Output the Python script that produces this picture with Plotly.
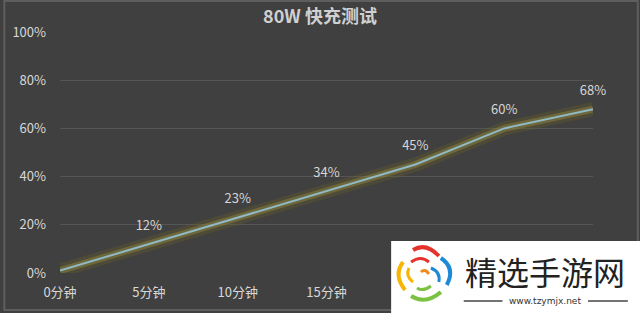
import plotly.graph_objects as go

# ---- data ----
categories = ["0分钟", "5分钟", "10分钟", "15分钟", "20分钟", "25分钟", "30分钟"]
values = [1, 12, 23, 34, 45, 60, 68]
point_labels = ["", "12%", "23%", "34%", "45%", "60%", "68%"]
y_ticks = [0, 20, 40, 60, 80, 100]
y_tick_labels = ["0%", "20%", "40%", "60%", "80%", "100%"]
visible_x_ticks = 4  # the rest are hidden behind the watermark in the source image
title_text = "80W 快充测试"

W, H = 640, 313
L, R, T, B = 57, 47, 32, 40
PW, PH = W - L - R, H - T - B

def px(x):
    return (x - L) / PW

def py(y):
    return (H - B - y) / PH

BG = "#404040"
FONT = "Noto Sans CJK SC"
xi = list(range(len(categories)))

fig = go.Figure()
# glow layers
fig.add_trace(go.Scatter(x=xi, y=values, mode="lines",
                         line=dict(color="rgba(110,100,40,0.30)", width=14),
                         hoverinfo="skip", showlegend=False))
fig.add_trace(go.Scatter(x=xi, y=values, mode="lines",
                         line=dict(color="rgba(150,140,65,0.45)", width=7),
                         hoverinfo="skip", showlegend=False))
fig.add_trace(go.Scatter(x=xi, y=values, mode="lines+markers+text",
                         line=dict(color="#8fbac6", width=2),
                         marker=dict(size=16, opacity=0),
                         text=point_labels, textposition="top center",
                         textfont=dict(family=FONT, size=13, color="#d6d6d6"),
                         cliponaxis=False, showlegend=False))

fig.update_layout(
    width=W, height=H,
    margin=dict(l=L, r=R, t=T, b=B, pad=0),
    paper_bgcolor=BG, plot_bgcolor=BG,
    title=dict(text="<b>" + title_text + "</b>", x=0.5, xanchor="center",
               y=1 - 17 / H, yanchor="middle",
               font=dict(family=FONT, size=18, color="#d0d0d0")),
    xaxis=dict(tickmode="array", tickvals=xi[:visible_x_ticks],
               ticktext=categories[:visible_x_ticks], range=[0, 6],
               showgrid=False, zeroline=False, showline=False, ticks="",
               tickfont=dict(family=FONT, size=13, color="#d8d8d8"), ticklabelstandoff=10),
    yaxis=dict(tickmode="array", tickvals=y_ticks, ticktext=y_tick_labels, range=[0, 100],
               showgrid=True, gridcolor="#555555", gridwidth=1, zeroline=False,
               showline=False, ticks="",
               tickfont=dict(family=FONT, size=13, color="#d8d8d8"), ticklabelstandoff=13),
    font=dict(family=FONT),
)

shapes = []
# border
shapes.append(dict(type="rect", xref="paper", yref="paper",
                   x0=px(1), x1=px(638), y0=py(1), y1=py(310),
                   line=dict(color="#5e5e5e", width=2), layer="below"))
# watermark white box
shapes.append(dict(type="rect", xref="paper", yref="paper",
                   x0=px(390), x1=px(642), y0=py(241), y1=py(315),
                   fillcolor="white", line=dict(width=0), layer="above"))
# lines around url
for a, b in [(463, 502), (588, 628)]:
    shapes.append(dict(type="line", xref="paper", yref="paper",
                       x0=px(a), x1=px(b), y0=py(301), y1=py(301),
                       line=dict(color="#444444", width=1.5), layer="above"))

def curve(p0, c, p1, color, w):
    path = "M {} {} Q {} {} {} {}".format(px(p0[0]), py(p0[1]), px(c[0]), py(c[1]),
                                          px(p1[0]), py(p1[1]))
    return dict(type="path", xref="paper", yref="paper", path=path,
                line=dict(color=color, width=w), layer="above")

# logo swirl approximation
shapes.append(curve((412, 250), (425, 242), (438, 256), "#e5322d", 4))
shapes.append(curve((410, 262), (420, 255), (428, 262), "#e5322d", 3))
shapes.append(curve((440, 258), (455, 268), (446, 285), "#1e8ad6", 4))
shapes.append(curve((430, 268), (440, 272), (438, 282), "#1e8ad6", 3))
shapes.append(curve((440, 292), (425, 305), (410, 296), "#7cc242", 4))
shapes.append(curve((430, 286), (422, 292), (416, 288), "#7cc242", 3))
shapes.append(curve((404, 290), (392, 275), (402, 262), "#f7b500", 4))
shapes.append(curve((412, 282), (404, 276), (408, 268), "#f7b500", 3))
shapes.append(curve((420, 272), (424, 268), (428, 274), "#f08a1c", 3))

fig.update_layout(shapes=shapes)

fig.add_annotation(xref="paper", yref="paper", x=px(545), y=py(271),
                   text="精选手游网", showarrow=False, xanchor="center", yanchor="middle",
                   font=dict(family=FONT, size=32, color="#222222"))
fig.add_annotation(xref="paper", yref="paper", x=px(545), y=py(301),
                   text="www.tzymjx.net", showarrow=False, xanchor="center", yanchor="middle",
                   font=dict(family="DejaVu Sans", size=9, color="#333333"))

fig.write_html("out.html")
